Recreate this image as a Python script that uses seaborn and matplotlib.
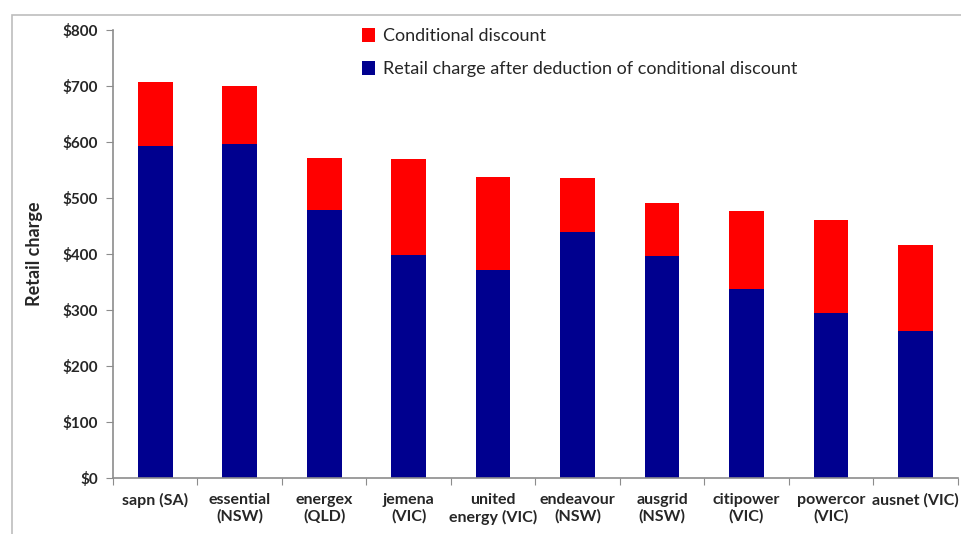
import numpy as np
import pandas as pd
import seaborn as sns
import matplotlib.pyplot as plt
from matplotlib.patches import Rectangle

sns.set_style("white")
plt.rcParams['font.family'] = ['Lato', 'DejaVu Sans']

categories = ['sapn (SA)', 'essential\n(NSW)', 'energex\n(QLD)', 'jemena\n(VIC)',
              'united\nenergy (VIC)', 'endeavour\n(NSW)', 'ausgrid\n(NSW)',
              'citipower\n(VIC)', 'powercor\n(VIC)', 'ausnet (VIC)']
total_charge = [707, 699, 572, 569, 537, 535, 491, 477, 460, 416]
after_discount = [593, 596, 479, 398, 372, 440, 396, 337, 295, 263]
y_ticks = [0, 100, 200, 300, 400, 500, 600, 700, 800]

df = pd.DataFrame({'network': categories, 'total': total_charge, 'after': after_discount})

fig = plt.figure(figsize=(9.62, 5.34), dpi=100)
ax = fig.add_axes([0.1175, 0.105, 0.878, 0.839])

# outer chart border
fig.patches.append(Rectangle((12 / 962, -0.1), 1.2, 1 - 15 / 534 + 0.1,
                             transform=fig.transFigure, fill=False,
                             edgecolor='#bdbdbd', linewidth=1.2))

sns.barplot(data=df, x='network', y='total', color='#ff0000', width=0.41,
            saturation=1, linewidth=0, label='Conditional discount', ax=ax)
sns.barplot(data=df, x='network', y='after', color='#00008f', width=0.41,
            saturation=1, linewidth=0,
            label='Retail charge after deduction of conditional discount', ax=ax)

ax.set_ylim(0, 800)
ax.set_xlim(-0.5, len(categories) - 0.5)
ax.set_yticks(y_ticks)
ax.set_yticklabels([f"${v}" for v in y_ticks], fontweight='bold', fontsize=11)

# ticks at category boundaries, labels at centres
ax.set_xticks(np.arange(-0.5, len(categories), 1.0))
ax.set_xticklabels([])
ax.set_xticks(np.arange(len(categories)), minor=True)
ax.set_xticklabels(categories, minor=True, fontweight='bold', fontsize=11.5)
ax.tick_params(axis='x', which='major', length=5, color='#8c8c8c', direction='out', bottom=True)
ax.tick_params(axis='x', which='minor', length=0, pad=11)
ax.tick_params(axis='y', length=5, color='#8c8c8c', direction='out', left=True, pad=6)

for side in ['top', 'right']:
    ax.spines[side].set_visible(False)
for side in ['left', 'bottom']:
    ax.spines[side].set_color('#8c8c8c')
    ax.spines[side].set_linewidth(1.2)

ax.set_xlabel('')
ax.set_ylabel('Retail charge', fontweight='bold', fontsize=13, labelpad=14)

handles, labels = ax.get_legend_handles_labels()
ax.legend(handles, labels, loc='upper left', bbox_to_anchor=(0.275, 1.04), frameon=False,
          fontsize=13, handlelength=0.75, handleheight=0.75, handletextpad=0.45,
          labelspacing=0.95)

plt.savefig('out.png', dpi=100)
